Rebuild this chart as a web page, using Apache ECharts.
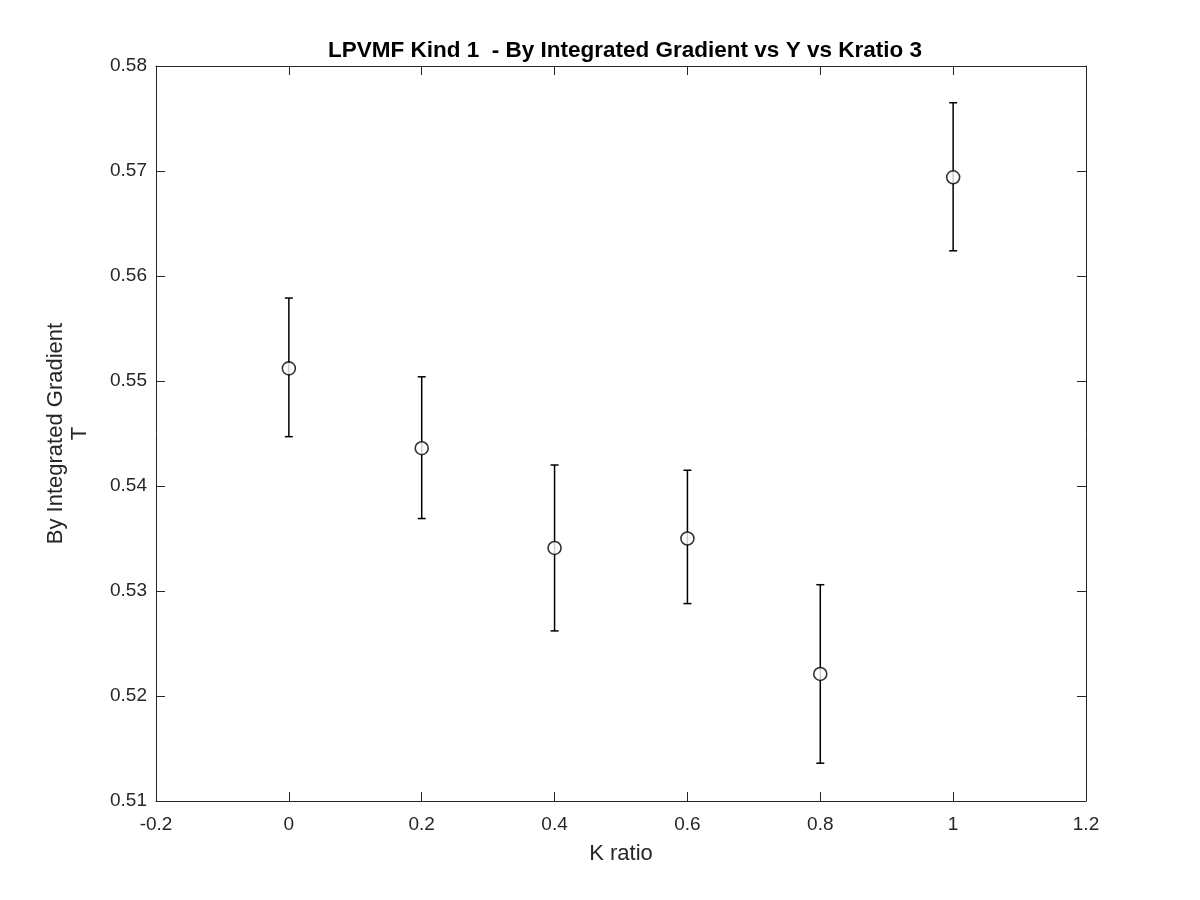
<!DOCTYPE html>
<html>
<head>
<meta charset="utf-8">
<script src="https://cdn.jsdelivr.net/npm/echarts@6/dist/echarts.min.js"></script>
<style>html,body{margin:0;padding:0;background:#fff;}#c{width:1200px;height:900px;}</style>
</head>
<body>
<div id="c"></div>
<script>
var kRatio = [0, 0.2, 0.4, 0.6, 0.8, 1.0];
var meanVals = [0.5512, 0.5436, 0.5341, 0.5350, 0.5221, 0.5694];
var upperVals = [0.5579, 0.5504, 0.5420, 0.5415, 0.5306, 0.5765];
var lowerVals = [0.5447, 0.5369, 0.5262, 0.5288, 0.5136, 0.5624];

var FONT = '"Liberation Sans", Arial, Helvetica, sans-serif';
var pts = kRatio.map(function (k, i) { return [k, meanVals[i]]; });
var errs = kRatio.map(function (k, i) { return [k, lowerVals[i], upperVals[i]]; });

var axisCommon = {
  axisLine: { show: true, onZero: false, lineStyle: { color: '#262626', width: 1 } },
  axisTick: { show: true, inside: true, length: 9, lineStyle: { color: '#262626' } },
  splitLine: { show: false }
};

var chart = echarts.init(document.getElementById('c'), null, { renderer: 'canvas' });
chart.setOption({
  backgroundColor: '#ffffff',
  animation: false,
  title: {
    text: 'LPVMF Kind 1  - By Integrated Gradient vs Y vs Kratio 3',
    left: 620, top: 34, textAlign: 'center',
    textStyle: { fontFamily: FONT, fontSize: 22.5, fontWeight: 'bold', color: '#000' }
  },
  grid: { left: 156, right: 114, top: 66, bottom: 99 },
  xAxis: [
    Object.assign({
      type: 'value', min: -0.2, max: 1.2, interval: 0.2, position: 'bottom',
      name: 'K ratio', nameLocation: 'middle', nameGap: 42,
      nameTextStyle: { fontFamily: FONT, fontSize: 22, color: '#262626' },
      axisLabel: { fontFamily: FONT, fontSize: 19, color: '#262626', margin: 14,
        formatter: function (v) { return String(Math.round(v * 10) / 10); } }
    }, axisCommon),
    Object.assign({
      type: 'value', min: -0.2, max: 1.2, interval: 0.2, position: 'top',
      axisLabel: { show: false }
    }, axisCommon)
  ],
  yAxis: [
    Object.assign({
      type: 'value', min: 0.51, max: 0.58, interval: 0.01, position: 'left',
      name: 'By Integrated Gradient\nT', nameLocation: 'middle', nameGap: 64,
      nameTextStyle: { fontFamily: FONT, fontSize: 22, color: '#262626', lineHeight: 24 },
      axisLabel: { fontFamily: FONT, fontSize: 19, color: '#262626', margin: 9,
        padding: [5, 0, 0, 0],
        formatter: function (v) { return (Math.round(v * 100) / 100).toFixed(2); } }
    }, axisCommon),
    Object.assign({
      type: 'value', min: 0.51, max: 0.58, interval: 0.01, position: 'right',
      axisLabel: { show: false }
    }, axisCommon)
  ],
  series: [
    {
      type: 'custom',
      xAxisIndex: 0, yAxisIndex: 0,
      data: errs,
      renderItem: function (params, api) {
        var x = api.value(0);
        var lo = api.coord([x, api.value(1)]);
        var hi = api.coord([x, api.value(2)]);
        var cap = 4;
        var st = { stroke: '#000', lineWidth: 1.5, fill: null };
        return {
          type: 'group',
          children: [
            { type: 'line', shape: { x1: hi[0], y1: hi[1], x2: lo[0], y2: lo[1] }, style: st },
            { type: 'line', shape: { x1: hi[0] - cap, y1: hi[1], x2: hi[0] + cap, y2: hi[1] }, style: st },
            { type: 'line', shape: { x1: lo[0] - cap, y1: lo[1], x2: lo[0] + cap, y2: lo[1] }, style: st }
          ]
        };
      },
      z: 2
    },
    {
      type: 'scatter',
      xAxisIndex: 0, yAxisIndex: 0,
      data: pts,
      symbol: 'circle',
      symbolSize: 13,
      itemStyle: { color: '#ffffff', borderColor: '#000', borderWidth: 1.6 },
      z: 3
    }
  ]
});
</script>
</body>
</html>
